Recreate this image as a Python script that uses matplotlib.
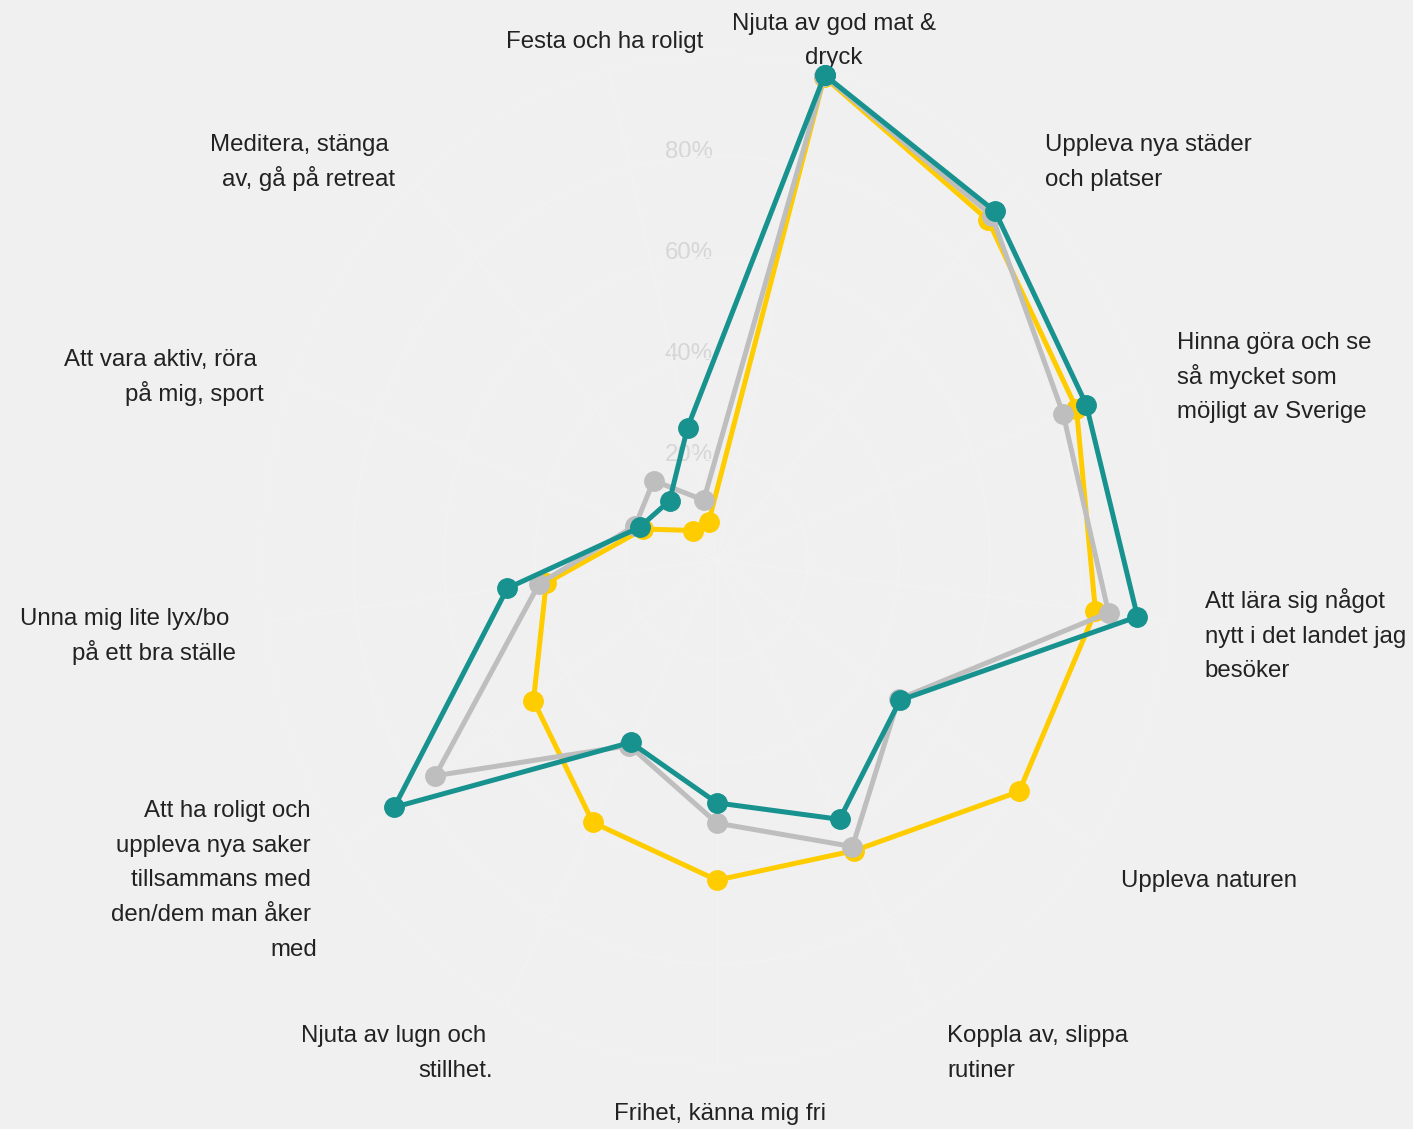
import numpy as np
import matplotlib.pyplot as plt

# Kategorier (medurs från toppen)
kategorier = [
    "Njuta av god mat &\ndryck",
    "Uppleva nya städer\noch platser",
    "Hinna göra och se\nså mycket som\nmöjligt av Sverige",
    "Att lära sig något\nnytt i det landet jag\nbesöker",
    "Uppleva naturen",
    "Koppla av, slippa\nrutiner",
    "Frihet, känna mig fri",
    "Njuta av lugn och \nstillhet.",
    "Att ha roligt och \nuppleva nya saker \ntillsammans med \nden/dem man åker \nmed",
    "Unna mig lite lyx/bo \npå ett bra ställe",
    "Att vara aktiv, röra \npå mig, sport",
    "Meditera, stänga \nav, gå på retreat",
    "Festa och ha roligt",
]

# Värden i procent
serie_gul = [98.5, 89.9, 84.5, 83.8, 80.7, 65.0, 63.4, 58.7, 49.0, 37.8, 17.3, 7.8, 7.7]
serie_gra = [98.7, 91.1, 81.4, 86.7, 48.5, 64.1, 52.1, 41.5, 75.2, 39.4, 19.2, 21.0, 12.2]
serie_teal = [98.9, 92.2, 86.8, 93.1, 48.9, 58.0, 48.1, 40.8, 86.2, 46.4, 18.2, 15.7, 27.0]

radie_ticks = [20, 40, 60, 80]

# Etiketter: förskjutning (px) från ytterkanten till första radens baslinje, samt justering
etikett_layout = [
    (8, 40, "center"), (26, 31, "left"), (35, 32, "left"), (36, 13, "left"),
    (30, -40, "left"), (19, -35, "left"), (3, -55, "center"), (-13, -35, "right"),
    (-25, 30, "right"), (-29, -4, "right"), (-28, 15, "right"), (-20, 31, "right"),
    (95, 22, "right"),
]
radavstand = 34.7

bg = "#f0f0f0"
farger = {"gul": "#ffcc00", "gra": "#bebebe", "teal": "#17928f"}
font = "Liberation Sans"

n = len(kategorier)
steg = 360 / n
vinklar = np.deg2rad(steg / 2 + np.arange(n) * steg)

fig = plt.figure(figsize=(14.13, 11.29), dpi=100, facecolor=bg)
ax = fig.add_axes([0.1854, 0.0567, 0.644, 0.8946], projection="polar")
ax.set_aspect("auto")
ax.set_facecolor(bg)
ax.set_theta_zero_location("N")
ax.set_theta_direction(-1)
ax.set_ylim(0, 1.0)
ax.spines["polar"].set_visible(False)
ax.set_thetagrids(np.rad2deg(vinklar), labels=[""] * n)
ax.set_rgrids([0.2, 0.4, 0.6, 0.8, 1.0], labels=[""] * 5)
ax.grid(color="#f3f3f3", linewidth=0.8)

vinklar_slutna = np.append(vinklar, vinklar[0])
for namn, serie, z in [("gul", serie_gul, 3), ("gra", serie_gra, 4), ("teal", serie_teal, 5)]:
    v = np.array(serie + serie[:1]) / 100
    ax.plot(vinklar_slutna, v, color=farger[namn], linewidth=3.6,
            marker="o", markersize=14, zorder=z, clip_on=False)

for vinkel, text, (dx, dy, ha) in zip(vinklar, kategorier, etikett_layout):
    for i, rad in enumerate(text.split("\n")):
        ax.annotate(rad, xy=(vinkel, 1.0), xytext=(dx, dy - i * radavstand),
                    textcoords="offset pixels", ha=ha, va="baseline",
                    fontsize=17.3, family=font, color="#222222",
                    annotation_clip=False)

for t in radie_ticks:
    ax.annotate(f"{t}%", xy=(0, t / 100), xytext=(-28, 4), textcoords="offset pixels",
                ha="center", va="center", fontsize=17.3, family=font,
                color="#d6d6d6", annotation_clip=False, zorder=1)

fig.savefig("out.png", dpi=100, facecolor=bg)
